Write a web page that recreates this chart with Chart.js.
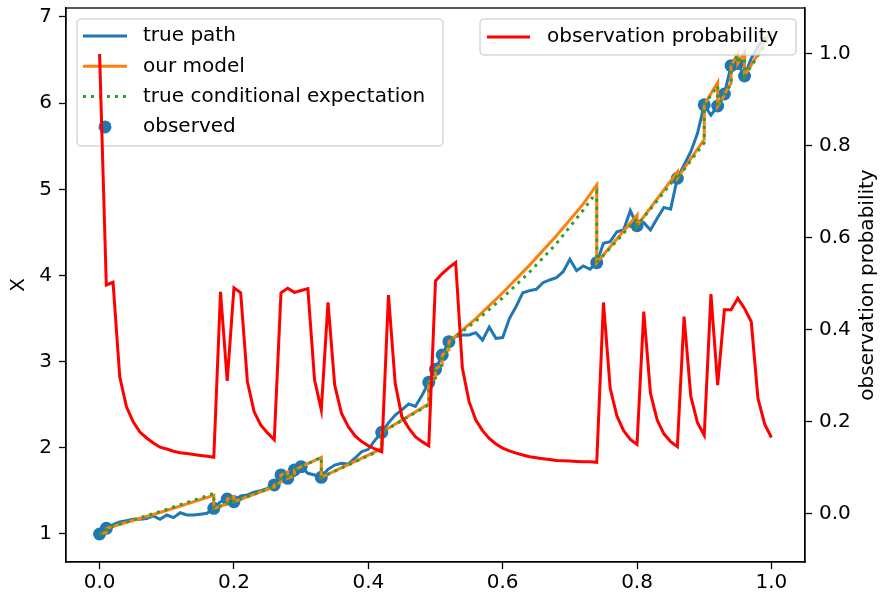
<!DOCTYPE html>
<html>
<head>
<meta charset="utf-8">
<script src="https://cdn.jsdelivr.net/npm/chart.js@4.4.0/dist/chart.umd.min.js"></script>
<style>
  html, body { margin: 0; padding: 0; background: #fff; }
  #chart { display: block; }
</style>
</head>
<body>
<canvas id="chart" width="881" height="592"></canvas>
<script>
// ---- data ----
const timeGrid = Array.from({ length: 101 }, (_, i) => i / 100);

const xTicks = [0, 0.2, 0.4, 0.6, 0.8, 1.0];
const leftTicks = [1, 2, 3, 4, 5, 6, 7];
const rightTicks = [0, 0.2, 0.4, 0.6, 0.8, 1.0];

// true path, one value per grid step (0.00 .. 1.00)
const truePath = [
  1.0, 1.066, 1.11, 1.14, 1.155, 1.17, 1.17, 1.18, 1.21, 1.17,
  1.22, 1.19, 1.247, 1.22, 1.22, 1.23, 1.24, 1.298, 1.375, 1.406,
  1.375, 1.441, 1.453, 1.484, 1.503, 1.53, 1.569, 1.685, 1.646, 1.743,
  1.781, 1.704, 1.685, 1.658, 1.751, 1.8, 1.82, 1.812, 1.879, 1.955,
  1.983, 2.09, 2.18, 2.29, 2.38, 2.44, 2.51, 2.48, 2.61, 2.76,
  2.911, 3.077, 3.232, 3.29, 3.31, 3.31, 3.336, 3.25, 3.4, 3.27,
  3.28, 3.5, 3.64, 3.8, 3.824, 3.84, 3.916, 3.948, 3.975, 4.044,
  4.188, 4.056, 4.11, 4.072, 4.149, 4.374, 4.392, 4.508, 4.528, 4.752,
  4.578, 4.613, 4.528, 4.664, 4.79, 4.77, 5.128, 5.282, 5.437, 5.65,
  5.98, 5.86, 5.967, 6.106, 6.435, 6.46, 6.315, 6.52, 6.655, 6.75,
  6.8
];

// observation probability, same grid
const obsProb = [
  1.0, 0.497, 0.503, 0.297, 0.232, 0.199, 0.177, 0.164, 0.153, 0.144,
  0.14, 0.135, 0.132, 0.13, 0.128, 0.126, 0.124, 0.122, 0.482, 0.288,
  0.491, 0.48, 0.287, 0.221, 0.192, 0.175, 0.16, 0.48, 0.49, 0.481,
  0.485, 0.489, 0.29, 0.225, 0.459, 0.279, 0.218, 0.189, 0.169, 0.156,
  0.147, 0.14, 0.134, 0.475, 0.283, 0.21, 0.186, 0.167, 0.156, 0.147,
  0.506, 0.522, 0.535, 0.546, 0.316, 0.243, 0.203, 0.18, 0.163, 0.151,
  0.142, 0.136, 0.131, 0.127, 0.123, 0.121, 0.119, 0.117, 0.115, 0.1145,
  0.114, 0.113, 0.112, 0.112, 0.111, 0.459, 0.272, 0.212, 0.18, 0.161,
  0.15, 0.439, 0.261, 0.203, 0.173, 0.156, 0.145, 0.428, 0.255, 0.197,
  0.17, 0.477, 0.279, 0.443, 0.443, 0.468, 0.446, 0.417, 0.25, 0.194,
  0.165
];

// observed points
const obsTimes = [0.0, 0.01, 0.17, 0.19, 0.2, 0.26, 0.27, 0.28, 0.29, 0.3, 0.33, 0.42, 0.49,
  0.5, 0.51, 0.52, 0.74, 0.8, 0.86, 0.9, 0.92, 0.93, 0.94, 0.95, 0.96];
const obsValues = [1.0, 1.066, 1.298, 1.406, 1.375, 1.569, 1.685, 1.646, 1.743, 1.781, 1.658, 2.18, 2.76,
  2.911, 3.077, 3.232, 4.149, 4.578, 5.128, 5.98, 5.967, 6.106, 6.435, 6.46, 6.315];

// model / conditional expectation: value before and after each jump
const modelTimes = [0, 0.01, 0.01, 0.09, 0.17, 0.17, 0.19, 0.19, 0.2, 0.2, 0.26, 0.26, 0.27, 0.27,
  0.28, 0.28, 0.29, 0.29, 0.3, 0.3, 0.33, 0.33, 0.42, 0.42, 0.49, 0.49, 0.5, 0.5, 0.51, 0.51,
  0.52, 0.52, 0.56, 0.6, 0.64, 0.68, 0.72, 0.74, 0.74, 0.8, 0.8, 0.86, 0.86, 0.9, 0.9,
  0.92, 0.92, 0.93, 0.93, 0.94, 0.94, 0.95, 0.95, 0.96, 0.96, 0.98, 1.0];
const modelValues = [1.0, 1.02, 1.066, 1.25, 1.45, 1.298, 1.35, 1.406, 1.435, 1.375, 1.545, 1.569, 1.6, 1.685,
  1.72, 1.646, 1.68, 1.743, 1.78, 1.781, 1.89, 1.658, 1.99, 2.18, 2.51, 2.76, 2.82, 2.911, 2.97, 3.077,
  3.14, 3.232, 3.5, 3.8, 4.12, 4.46, 4.83, 5.05, 4.149, 4.7, 4.578, 5.2, 5.128, 5.58, 5.98,
  6.24, 5.967, 6.09, 6.106, 6.23, 6.435, 6.57, 6.46, 6.59, 6.315, 6.57, 6.84];
const condValues = [1.0, 1.02, 1.066, 1.26, 1.47, 1.298, 1.35, 1.406, 1.435, 1.375, 1.55, 1.569, 1.6, 1.685,
  1.72, 1.646, 1.68, 1.743, 1.78, 1.781, 1.89, 1.658, 1.98, 2.18, 2.5, 2.76, 2.81, 2.911, 2.96, 3.077,
  3.13, 3.232, 3.47, 3.74, 4.04, 4.37, 4.76, 4.97, 4.149, 4.66, 4.578, 5.16, 5.128, 5.54, 5.98,
  6.2, 5.967, 6.08, 6.106, 6.22, 6.435, 6.56, 6.46, 6.58, 6.315, 6.55, 6.8];

const FONT = '20px "DejaVu Sans"';

/**
 * Turns two parallel lists into {x, y} points.
 */
function toPoints(xs, ys) {
  return xs.map((x, i) => ({ x: x, y: ys[i] }));
}

/**
 * Draws a matplotlib-like legend box with its entries.
 */
function drawLegend(ctx, chart, box, indexes) {
  ctx.save();
  ctx.beginPath();
  ctx.roundRect(box.x, box.y, box.w, box.h, 4);
  ctx.fillStyle = "rgba(255,255,255,0.8)";
  ctx.fill();
  ctx.strokeStyle = "rgba(204,204,204,0.8)";
  ctx.lineWidth = 1.5;
  ctx.stroke();

  indexes.forEach((dsIndex, row) => {
    const ds = chart.data.datasets[dsIndex];
    const y = box.rowY + row * box.rowGap;
    ctx.save();
    if (ds.type === "scatter") {
      ctx.fillStyle = ds.pointBackgroundColor;
      ctx.beginPath();
      ctx.arc((box.h0 + box.h1) / 2, y, ds.pointRadius, 0, Math.PI * 2);
      ctx.fill();
    } else {
      ctx.strokeStyle = ds.borderColor;
      ctx.lineWidth = ds.borderWidth;
      ctx.setLineDash(ds.borderDash || []);
      ctx.beginPath();
      ctx.moveTo(box.h0, y);
      ctx.lineTo(box.h1, y);
      ctx.stroke();
    }
    ctx.restore();
    ctx.font = FONT;
    ctx.fillStyle = "#000";
    ctx.textAlign = "left";
    ctx.textBaseline = "middle";
    ctx.fillText(ds.label, box.textX, y);
  });
  ctx.restore();
}

/**
 * Draws a vertical axis label read bottom-to-top.
 */
function drawVerticalLabel(ctx, text, x, y) {
  ctx.save();
  ctx.translate(x, y);
  ctx.rotate(-Math.PI / 2);
  ctx.font = FONT;
  ctx.fillStyle = "#000";
  ctx.textAlign = "center";
  ctx.textBaseline = "middle";
  ctx.fillText(text, 0, 0);
  ctx.restore();
}

const RED_INDEX = 4;

const mplPlugin = {
  id: "mplLegends",
  beforeDatasetDraw(chart, args) {
    // left legend sits under the twin-axis red line, like in matplotlib
    if (args.index === RED_INDEX) {
      drawLegend(chart.ctx, chart,
        { x: 77, y: 19, w: 366, h: 127, rowY: 36, rowGap: 30.3, h0: 83, h1: 127, textX: 143 },
        [0, 1, 2, 3]);
    }
  },
  afterDatasetsDraw(chart) {
    const ctx = chart.ctx;
    const a = chart.chartArea;
    ctx.save();
    ctx.strokeStyle = "#000";
    ctx.lineWidth = 1.3;
    ctx.strokeRect(a.left, a.top, a.right - a.left, a.bottom - a.top);
    ctx.restore();
    drawLegend(ctx, chart,
      { x: 480, y: 19, w: 316, h: 36, rowY: 37, rowGap: 30, h0: 487, h1: 530, textX: 547 },
      [RED_INDEX]);
    drawVerticalLabel(ctx, "X", 18.5, (a.top + a.bottom) / 2);
    drawVerticalLabel(ctx, "observation probability", 868, (a.top + a.bottom) / 2);
  },
};

function axisStyle() {
  return {
    grid: { drawOnChartArea: false, drawTicks: true, tickLength: 7, tickColor: "#000", tickWidth: 1.3 },
    border: { display: true, color: "#000", width: 1.3 },
  };
}

// keep the plot box fixed: no extra room for half labels
function fixVertical(width) {
  return (scale) => {
    scale.width = width;
    scale.paddingTop = 0;
    scale.paddingBottom = 0;
  };
}

function renderChart() {
  const ctx = document.getElementById("chart").getContext("2d");
  new Chart(ctx, {
    type: "line",
    data: {
      datasets: [
        {
          label: "true path",
          data: toPoints(timeGrid, truePath),
          borderColor: "#1f77b4",
          borderWidth: 3,
          pointRadius: 0,
          yAxisID: "y",
          order: 4,
        },
        {
          label: "our model",
          data: toPoints(modelTimes, modelValues),
          borderColor: "#ff7f0e",
          borderWidth: 3,
          pointRadius: 0,
          yAxisID: "y",
          order: 3,
        },
        {
          label: "true conditional expectation",
          data: toPoints(modelTimes, condValues),
          borderColor: "#2ca02c",
          borderWidth: 3,
          borderDash: [3, 5],
          borderCapStyle: "butt",
          pointRadius: 0,
          yAxisID: "y",
          order: 2,
        },
        {
          type: "scatter",
          label: "observed",
          data: toPoints(obsTimes, obsValues),
          pointRadius: 6.5,
          pointBackgroundColor: "#1f77b4",
          pointBorderWidth: 0,
          showLine: false,
          yAxisID: "y",
          order: 5,
        },
        {
          label: "observation probability",
          data: toPoints(timeGrid, obsProb),
          borderColor: "#ff0000",
          borderWidth: 3,
          pointRadius: 0,
          yAxisID: "y2",
          order: 0,
        },
      ],
    },
    options: {
      responsive: false,
      animation: false,
      devicePixelRatio: 1,
      layout: { padding: { top: 8, left: 0, right: 0, bottom: 0 } },
      plugins: { legend: { display: false }, tooltip: { enabled: false } },
      scales: {
        x: {
          type: "linear",
          position: "bottom",
          min: -0.05,
          max: 1.05,
          afterBuildTicks: (scale) => { scale.ticks = xTicks.map((v) => ({ value: v })); },
          afterFit: (scale) => {
            scale.height = 30;
            scale.paddingLeft = 0;
            scale.paddingRight = 0;
          },
          ticks: { font: { family: "DejaVu Sans", size: 20 }, color: "#000", padding: 2,
            callback: (v) => Number(v).toFixed(1) },
          ...axisStyle(),
        },
        y: {
          type: "linear",
          position: "left",
          min: 0.675,
          max: 7.104,
          afterBuildTicks: (scale) => { scale.ticks = leftTicks.map((v) => ({ value: v })); },
          afterFit: fixVertical(66),
          ticks: { font: { family: "DejaVu Sans", size: 20 }, color: "#000", padding: 7,
            callback: (v) => String(v) },
          ...axisStyle(),
        },
        y2: {
          type: "linear",
          position: "right",
          min: -0.106,
          max: 1.1,
          afterBuildTicks: (scale) => { scale.ticks = rightTicks.map((v) => ({ value: v })); },
          afterFit: fixVertical(76),
          ticks: { font: { family: "DejaVu Sans", size: 20 }, color: "#000", padding: 7,
            callback: (v) => Number(v).toFixed(1) },
          ...axisStyle(),
        },
      },
    },
    plugins: [mplPlugin],
  });
}

document.addEventListener("DOMContentLoaded", renderChart);
</script>
</body>
</html>
